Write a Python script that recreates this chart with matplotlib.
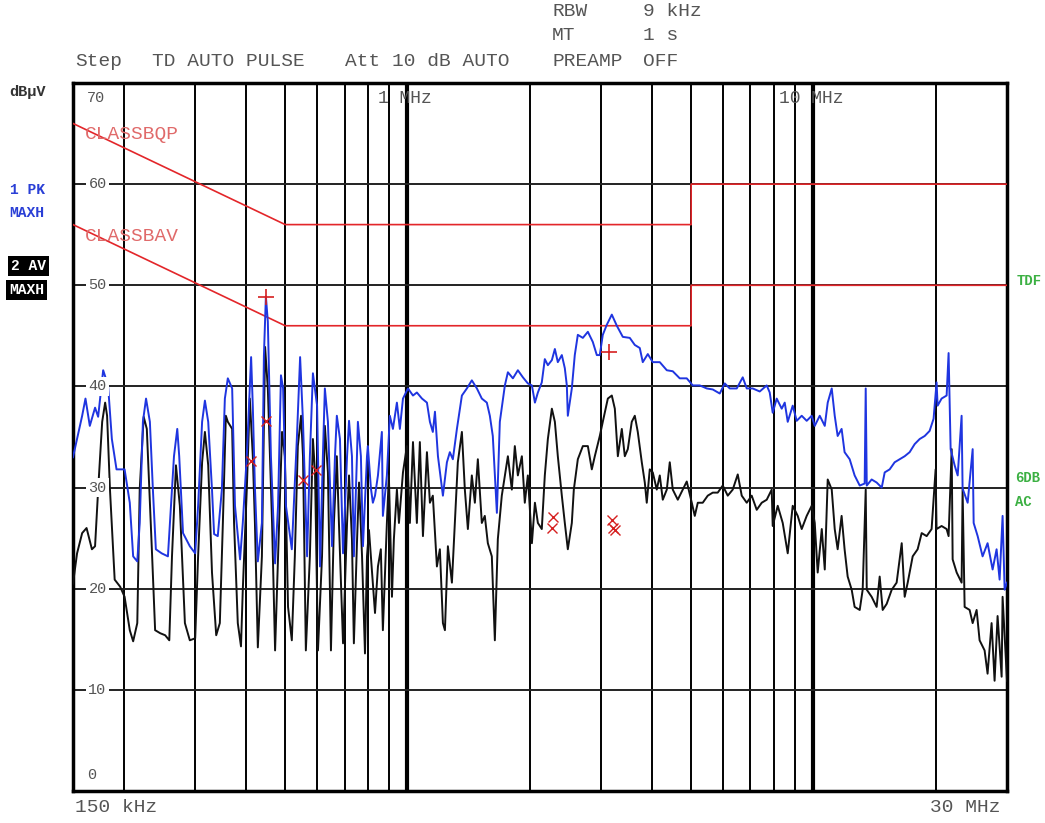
import matplotlib.pyplot as plt

# Limit lines, CISPR class B conducted (dBuV)
limit_freq = [0.15, 0.5, 5.0, 5.0, 30.0]
qp_limit = [66, 56, 56, 60, 60]
av_limit = [56, 46, 46, 50, 50]

# Trace 1: peak detector, max hold (MHz / dBuV)
pk_freq = [0.150, 0.158, 0.161, 0.165, 0.170, 0.173, 0.178, 0.183, 0.187, 0.192,
           0.201, 0.207, 0.211, 0.216, 0.219, 0.223, 0.227, 0.232, 0.236, 0.240,
           0.248, 0.257, 0.260, 0.266, 0.271, 0.274, 0.280, 0.291, 0.300, 0.305,
           0.312, 0.317, 0.323, 0.330, 0.334, 0.341, 0.349, 0.355, 0.361, 0.370,
           0.376, 0.387, 0.393, 0.402, 0.412, 0.416, 0.421, 0.428, 0.438, 0.443,
           0.448, 0.453, 0.461, 0.472, 0.480, 0.488, 0.494, 0.502, 0.519, 0.534,
           0.544, 0.553, 0.566, 0.575, 0.585, 0.599, 0.609, 0.619, 0.626, 0.637,
           0.652, 0.663, 0.670, 0.682, 0.694, 0.710, 0.718, 0.730, 0.738, 0.751,
           0.755, 0.768, 0.777, 0.795, 0.799, 0.813, 0.822, 0.832, 0.846, 0.865,
           0.870, 0.890, 0.905, 0.921, 0.942, 0.958, 0.975, 1.003, 1.032, 1.055,
           1.086, 1.117, 1.136, 1.155, 1.169, 1.189, 1.223, 1.251, 1.272, 1.294,
           1.324, 1.362, 1.401, 1.441, 1.483, 1.525, 1.569, 1.596, 1.623, 1.661,
           1.689, 1.738, 1.768, 1.819, 1.871, 1.925, 1.980, 2.026, 2.061, 2.096,
           2.143, 2.180, 2.218, 2.269, 2.308, 2.347, 2.401, 2.442, 2.470, 2.484,
           2.541, 2.584, 2.629, 2.705, 2.783, 2.862, 2.928, 2.978, 3.029, 3.099,
           3.188, 3.280, 3.393, 3.530, 3.632, 3.736, 3.800, 3.910, 4.022, 4.185,
           4.355, 4.505, 4.687, 4.877, 5.046, 5.250, 5.463, 5.652, 5.881, 6.050,
           6.224, 6.476, 6.700, 6.854, 7.091, 7.378, 7.677, 7.808, 7.942, 8.124,
           8.358, 8.502, 8.648, 8.896, 9.100, 9.362, 9.631, 9.908, 10.08, 10.37,
           10.67, 10.85, 11.10, 11.29, 11.48, 11.74, 11.94, 12.29, 12.64, 13.01,
           13.38, 13.46, 13.54, 13.92, 14.32, 14.74, 14.99, 15.42, 15.86, 16.32,
           16.79, 17.27, 17.77, 18.28, 18.81, 19.34, 19.78, 20.12, 20.24, 20.70,
           21.30, 21.54, 21.79, 22.29, 22.68, 23.19, 23.32, 24.00, 24.69, 24.83,
           25.40, 26.12, 26.87, 27.65, 28.28, 28.77, 29.26, 29.60, 30.00]
pk_level = [33.0, 37.1, 38.8, 36.1, 37.9, 37.0, 41.6, 40.1, 34.8, 31.8,
            31.8, 28.5, 23.2, 22.7, 26.5, 36.5, 38.8, 36.5, 29.8, 23.9,
            23.5, 23.2, 26.5, 33.1, 35.8, 33.1, 25.5, 24.2, 23.5, 28.2,
            36.5, 38.6, 36.5, 29.8, 25.4, 25.2, 29.8, 38.8, 40.8, 39.8,
            28.2, 22.9, 26.5, 33.1, 42.9, 38.0, 30.0, 22.7, 26.5, 43.0,
            48.9, 46.4, 33.1, 22.5, 28.2, 41.1, 39.8, 28.2, 23.9, 34.8,
            42.9, 36.5, 23.2, 33.1, 41.3, 38.1, 22.2, 33.1, 39.8, 36.5,
            24.2, 33.1, 37.1, 34.8, 23.5, 33.1, 36.6, 33.1, 23.2, 33.1,
            36.5, 33.1, 24.2, 33.1, 34.1, 29.9, 28.5, 29.2, 31.2, 35.5,
            27.2, 31.2, 37.1, 35.8, 38.4, 35.8, 38.8, 39.8, 39.1, 39.4,
            38.8, 38.4, 36.5, 35.5, 37.5, 33.1, 29.2, 32.5, 33.5, 32.8,
            35.8, 39.1, 39.8, 40.6, 39.8, 38.8, 38.4, 37.1, 35.1, 27.5,
            36.5, 40.1, 41.4, 40.8, 41.6, 40.9, 40.3, 40.1, 38.4, 39.4,
            40.4, 42.7, 42.1, 42.6, 43.7, 42.4, 43.1, 41.8, 40.1, 37.1,
            39.8, 43.1, 45.1, 44.8, 45.4, 44.4, 43.1, 43.1, 45.1, 46.1,
            47.1, 46.0, 44.9, 44.8, 44.1, 43.8, 42.4, 43.2, 42.4, 42.4,
            41.6, 41.5, 40.8, 40.8, 40.1, 40.1, 39.8, 39.7, 39.3, 40.3,
            39.8, 39.8, 40.9, 39.8, 39.8, 39.5, 40.1, 39.4, 37.4, 38.8,
            37.8, 38.4, 36.5, 38.1, 36.6, 37.1, 36.6, 37.1, 36.1, 37.1,
            36.1, 38.4, 39.8, 37.1, 35.1, 35.8, 33.5, 32.8, 31.2, 30.2,
            30.4, 39.8, 30.2, 30.8, 30.5, 30.0, 31.5, 31.8, 32.5, 32.8,
            33.1, 33.5, 34.3, 34.8, 35.1, 35.6, 36.8, 40.4, 38.1, 38.8,
            39.1, 43.3, 33.8, 32.2, 31.2, 37.1, 29.9, 28.5, 33.8, 26.5,
            25.2, 23.2, 24.5, 21.9, 23.9, 20.9, 27.2, 19.9, 20.6]

# Trace 2: average detector, max hold (MHz / dBuV)
av_freq = [0.150, 0.1535, 0.158, 0.162, 0.167, 0.170, 0.173, 0.177, 0.180, 0.182,
           0.185, 0.190, 0.196, 0.201, 0.207, 0.211, 0.216, 0.219, 0.224, 0.228,
           0.235, 0.239, 0.246, 0.253, 0.259, 0.263, 0.269, 0.275, 0.283, 0.291,
           0.300, 0.305, 0.312, 0.317, 0.323, 0.330, 0.338, 0.345, 0.351, 0.357,
           0.361, 0.370, 0.374, 0.382, 0.389, 0.393, 0.402, 0.409, 0.416, 0.421,
           0.428, 0.438, 0.446, 0.453, 0.464, 0.472, 0.480, 0.491, 0.499, 0.508,
           0.519, 0.528, 0.537, 0.547, 0.553, 0.562, 0.575, 0.585, 0.592, 0.602,
           0.616, 0.626, 0.637, 0.648, 0.659, 0.670, 0.678, 0.694, 0.710, 0.718,
           0.730, 0.738, 0.751, 0.760, 0.773, 0.786, 0.795, 0.804, 0.818, 0.832,
           0.846, 0.860, 0.870, 0.890, 0.900, 0.916, 0.926, 0.942, 0.953, 0.975,
           0.997, 1.014, 1.032, 1.055, 1.073, 1.092, 1.117, 1.136, 1.155, 1.182,
           1.202, 1.223, 1.237, 1.258, 1.287, 1.309, 1.331, 1.362, 1.385, 1.409,
           1.441, 1.466, 1.491, 1.525, 1.551, 1.578, 1.614, 1.642, 1.670, 1.708,
           1.738, 1.768, 1.808, 1.839, 1.871, 1.914, 1.946, 1.980, 2.026, 2.061,
           2.096, 2.143, 2.180, 2.218, 2.269, 2.308, 2.347, 2.401, 2.442, 2.484,
           2.541, 2.570, 2.629, 2.705, 2.783, 2.846, 2.895, 2.978, 3.029, 3.117,
           3.188, 3.243, 3.299, 3.374, 3.432, 3.491, 3.570, 3.632, 3.694, 3.779,
           3.844, 3.887, 3.954, 4.022, 4.114, 4.185, 4.257, 4.355, 4.429, 4.505,
           4.635, 4.768, 4.877, 5.018, 5.104, 5.192, 5.340, 5.494, 5.652, 5.814,
           5.982, 6.154, 6.331, 6.513, 6.662, 6.854, 7.050, 7.253, 7.462, 7.677,
           7.897, 7.942, 8.171, 8.406, 8.648, 8.896, 9.153, 9.362, 9.631, 9.908,
           10.08, 10.25, 10.49, 10.67, 10.85, 11.10, 11.29, 11.48, 11.74, 11.94,
           12.15, 12.43, 12.64, 13.01, 13.23, 13.46, 13.54, 13.92, 14.32, 14.57,
           14.82, 15.16, 15.60, 16.04, 16.51, 16.79, 17.08, 17.57, 18.07, 18.49,
           19.02, 19.56, 20.01, 20.12, 20.70, 21.30, 21.54, 21.92, 22.04, 22.55,
           23.19, 23.32, 23.59, 24.27, 24.69, 25.25, 25.68, 26.42, 26.87, 27.49,
           27.96, 28.44, 29.10, 29.26, 30.00]
av_level = [20.5, 23.5, 25.5, 26.0, 23.9, 24.2, 29.8, 36.5, 38.4, 37.1,
            29.8, 20.9, 20.2, 19.2, 15.9, 14.8, 16.6, 29.8, 37.0, 35.8,
            23.2, 15.9, 15.6, 15.4, 14.9, 23.2, 32.2, 28.2, 16.6, 14.9,
            15.1, 23.2, 32.5, 35.5, 32.2, 21.6, 15.4, 16.6, 26.5, 37.1,
            36.5, 35.8, 26.5, 16.6, 14.3, 19.9, 29.8, 38.8, 33.1, 26.5,
            14.2, 23.2, 43.9, 39.8, 26.5, 13.9, 23.2, 35.5, 33.1, 18.2,
            14.9, 23.2, 34.1, 37.1, 33.1, 13.9, 23.2, 34.8, 31.5, 13.9,
            23.2, 36.1, 31.5, 13.9, 26.5, 33.1, 26.5, 14.6, 26.5, 31.2,
            24.9, 14.6, 24.5, 30.5, 23.2, 13.6, 23.2, 25.8, 21.6, 17.6,
            22.2, 23.9, 15.9, 26.5, 31.2, 19.2, 24.9, 29.8, 26.5, 31.5,
            34.1, 26.5, 34.5, 26.5, 34.5, 25.2, 33.5, 28.5, 29.2, 22.2,
            23.9, 16.6, 15.9, 24.2, 20.6, 26.5, 32.5, 35.5, 29.8, 25.9,
            31.2, 28.5, 32.8, 26.5, 27.2, 24.5, 23.2, 14.9, 24.9, 29.2,
            31.2, 33.1, 29.8, 34.1, 31.2, 33.1, 28.5, 31.2, 24.5, 28.5,
            26.5, 25.9, 31.2, 34.8, 37.8, 36.5, 33.1, 29.2, 26.5, 23.9,
            26.5, 29.8, 32.8, 34.1, 34.1, 31.8, 33.1, 35.1, 36.5, 38.8,
            39.1, 37.8, 33.1, 35.8, 33.1, 33.8, 36.5, 37.1, 35.5, 32.5,
            30.5, 28.5, 31.8, 31.5, 29.8, 31.2, 28.8, 29.8, 32.5, 29.8,
            28.8, 29.8, 30.6, 28.5, 27.2, 28.5, 28.5, 29.2, 29.5, 29.5,
            30.2, 29.2, 29.8, 31.3, 29.2, 28.5, 29.2, 27.8, 28.5, 28.8,
            29.8, 26.2, 28.2, 26.5, 23.5, 28.2, 27.2, 25.9, 27.2, 28.2,
            26.5, 21.6, 25.9, 21.9, 30.8, 29.8, 25.9, 23.9, 27.2, 23.9,
            21.2, 19.9, 18.2, 17.9, 19.9, 29.8, 19.9, 19.2, 18.2, 21.2,
            17.9, 18.5, 19.9, 20.6, 24.5, 19.2, 20.6, 23.2, 23.9, 25.5,
            25.2, 25.9, 31.8, 25.9, 26.2, 25.9, 25.2, 33.8, 22.9, 21.6,
            20.6, 29.8, 18.2, 17.9, 16.6, 17.9, 14.9, 13.9, 11.6, 16.6,
            10.9, 17.3, 11.3, 19.2, 10.9]

# Final measurement results
qp_result_freq = [0.448, 3.13]
qp_result_level = [48.8, 43.4]
av_result_freq = [0.448, 0.412, 0.553, 0.595, 2.282, 2.269, 3.188, 3.206, 3.24]
av_result_level = [36.6, 32.6, 30.7, 31.7, 27.1, 26.0, 26.8, 26.0, 25.8]

grid_freq = [0.2, 0.3, 0.4, 0.5, 0.6, 0.7, 0.8, 0.9, 1, 2, 3, 4, 5, 6, 7, 8, 9, 10, 20]
grid_level = [10, 20, 30, 40, 50, 60]

plt.rcParams['font.family'] = ['Liberation Mono', 'DejaVu Sans Mono']
W, H = 1045, 823


def px(x, y):
    return x / W, 1 - y / H


fig = plt.figure(figsize=(W / 100, H / 100), dpi=100)
ax = fig.add_axes([73 / W, 1 - 791 / H, 934 / W, 708 / H])
ax.set_xscale('log')
ax.set_xlim(0.15, 30)
ax.set_ylim(0, 70)
ax.set_xticks([])
ax.set_yticks([])
ax.minorticks_off()
for s in ax.spines.values():
    s.set_linewidth(2.5)

for f in grid_freq:
    ax.axvline(f, color='black', lw=3.0 if f in (1, 10) else 1.4, zorder=1)
for lv in grid_level:
    ax.axhline(lv, color='#222222', lw=1.4, zorder=1)

ax.plot(limit_freq, qp_limit, color='#e3262a', lw=1.2, zorder=3)
ax.plot(limit_freq, av_limit, color='#e3262a', lw=1.2, zorder=3)
ax.plot(av_freq, av_level, color='#111111', lw=1.4, zorder=4)
ax.plot(pk_freq, pk_level, color='#1f35e0', lw=1.4, zorder=5)
ax.plot(qp_result_freq, qp_result_level, '+', color='#d62020', ms=11, mew=1.2, zorder=6)
ax.plot(av_result_freq, av_result_level, 'x', color='#d62020', ms=7, mew=1.0, zorder=6)

# level scale, written inside the grid
grey = '#555555'
ytr = ax.get_yaxis_transform()
for lv in grid_level:
    ax.text(0.0165, lv, str(lv), transform=ytr, fontsize=11, color=grey,
            ha='left', va='center', zorder=7,
            bbox=dict(facecolor='white', edgecolor='none', pad=1.5))
ax.text(0.0150, 68.5, '70', transform=ytr, fontsize=11, color=grey, ha='left', va='center')
ax.text(0.0150, 1.6, '0', transform=ytr, fontsize=11, color=grey, ha='left', va='center')
ax.text(0.327, 68.5, '1 MHz', transform=ytr, fontsize=13, color=grey, ha='left', va='center')
ax.text(0.756, 68.5, '10 MHz', transform=ytr, fontsize=13, color=grey, ha='left', va='center')
ax.text(0.0130, 64.9, 'CLASSBQP', transform=ytr, fontsize=14, color='#e06a6a', ha='left', va='center')
ax.text(0.0130, 54.8, 'CLASSBAV', transform=ytr, fontsize=14, color='#e06a6a', ha='left', va='center')

# receiver settings header
hs = 14
fig.text(*px(552, 12), 'RBW', fontsize=hs, color=grey, va='center')
fig.text(*px(643, 12), '9 kHz', fontsize=hs, color=grey, va='center')
fig.text(*px(552, 36), 'MT', fontsize=hs, color=grey, va='center')
fig.text(*px(643, 36), '1 s', fontsize=hs, color=grey, va='center')
fig.text(*px(75, 62), 'Step', fontsize=hs, color=grey, va='center')
fig.text(*px(152, 62), 'TD AUTO PULSE', fontsize=hs, color=grey, va='center')
fig.text(*px(345, 62), 'Att 10 dB AUTO', fontsize=hs, color=grey, va='center')
fig.text(*px(552, 62), 'PREAMP', fontsize=hs, color=grey, va='center')
fig.text(*px(643, 62), 'OFF', fontsize=hs, color=grey, va='center')

fig.text(*px(9, 92), 'dBµV', fontsize=11, color='#333333', weight='bold', va='center')
fig.text(*px(10, 190), '1 PK', fontsize=10.5, color='#2a3fd6', weight='bold', va='center')
fig.text(*px(9, 213), 'MAXH', fontsize=10.5, color='#2a3fd6', weight='bold', va='center')
fig.text(*px(11, 266), '2 AV', fontsize=10.5, color='white', weight='bold', va='center',
         bbox=dict(facecolor='black', edgecolor='none', pad=2))
fig.text(*px(9, 290), 'MAXH', fontsize=10.5, color='white', weight='bold', va='center',
         bbox=dict(facecolor='black', edgecolor='none', pad=2))
fig.text(*px(1017, 281), 'TDF', fontsize=10, color='#3cb043', weight='bold', va='center')
fig.text(*px(1015, 478), '6DB', fontsize=10, color='#3cb043', weight='bold', va='center')
fig.text(*px(1015, 502), 'AC', fontsize=10, color='#3cb043', weight='bold', va='center')

fig.text(*px(75, 808), '150 kHz', fontsize=hs, color=grey, va='center')
fig.text(*px(930, 808), '30 MHz', fontsize=hs, color=grey, va='center')

fig.savefig('out.png', dpi=100)
